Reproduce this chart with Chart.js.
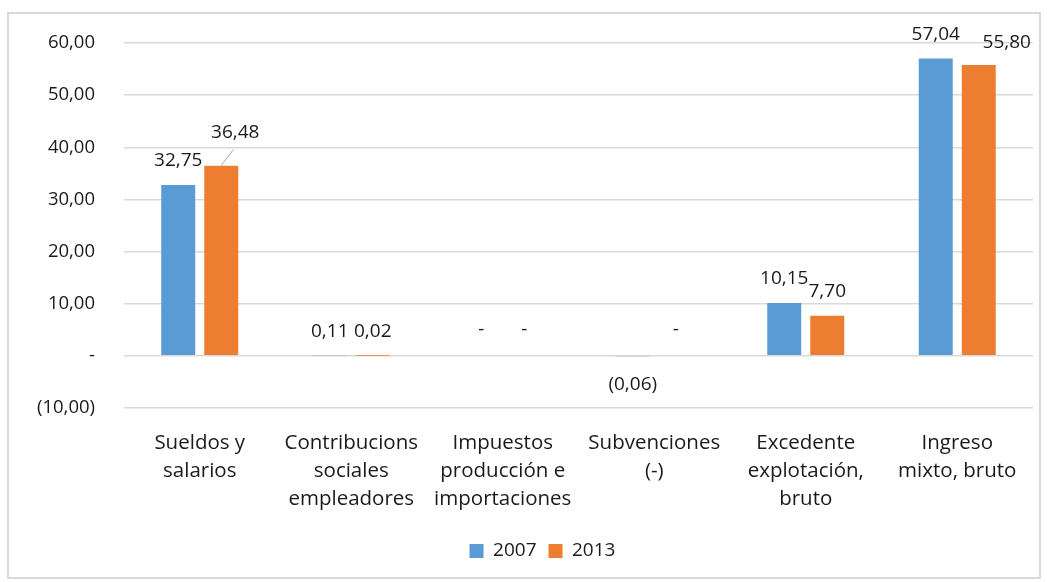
<!DOCTYPE html>
<html>
<head>
<meta charset="utf-8">
<script src="https://cdn.jsdelivr.net/npm/chart.js@4.4.1/dist/chart.umd.min.js"></script>
<style>
  html, body { margin: 0; padding: 0; background: #fff; }
  #wrap { position: relative; width: 1047px; height: 582px; }
  #frame { position: absolute; left: 7px; top: 12px; width: 1030px; height: 563px;
           border: 2px solid #d9d9d9; pointer-events: none; }
  canvas { position: absolute; left: 0; top: 0; }
</style>
</head>
<body>
<div id="wrap">
  <canvas id="chart" width="1047" height="582"></canvas>
  <div id="frame"></div>
</div>
<script>
const categories = [
  ['Sueldos y', 'salarios'],
  ['Contribucions', 'sociales', 'empleadores'],
  ['Impuestos', 'producción e', 'importaciones'],
  ['Subvenciones', '(-)'],
  ['Excedente', 'explotación,', 'bruto'],
  ['Ingreso', 'mixto, bruto']
];
const values2007 = [32.75, 0.11, 0, -0.06, 10.15, 57.04];
const values2013 = [36.48, 0.02, 0, 0, 7.70, 55.80];
const seriesNames = ['2007', '2013'];
const yTicks = [-10, 0, 10, 20, 30, 40, 50, 60];

const FONT = '"Open Sans", "Lato", sans-serif';

// formato contable: 32,75 / - / (0,06)
function fmt(v) {
  if (v === 0) return '-';
  const s = Math.abs(v).toFixed(2).replace('.', ',');
  return v < 0 ? '(' + s + ')' : s;
}

// etiquetas movidas a mano en el original (dataset-indice)
const moved = {
  '1-0': { dx: 14, dy: -9, leader: true },
  '1-5': { dx: 28, dy: 2 }
};

const valueLabels = {
  id: 'valueLabels',
  afterDatasetsDraw(chart) {
    const ctx = chart.ctx;
    ctx.save();
    ctx.font = '19px ' + FONT;
    ctx.fillStyle = '#1a1a1a';
    ctx.textAlign = 'center';
    ctx.textBaseline = 'middle';
    chart.data.datasets.forEach((ds, di) => {
      chart.getDatasetMeta(di).data.forEach((bar, i) => {
        const v = ds.data[i];
        let x = bar.x, y;
        if (v > 0) y = bar.y - 24;
        else if (v === 0) y = bar.base - 26;
        else y = bar.base + 28;
        const m = moved[di + '-' + i];
        if (m) {
          if (m.leader) {
            ctx.strokeStyle = '#a6a6a6';
            ctx.lineWidth = 1;
            ctx.beginPath();
            ctx.moveTo(bar.x, bar.y);
            ctx.lineTo(bar.x + 12, bar.y - 16);
            ctx.stroke();
          }
          x += m.dx; y += m.dy;
        }
        ctx.fillText(fmt(v), x, y);
      });
    });
    ctx.restore();
  }
};

// la leyenda del original no está centrada en el lienzo
const legendShift = {
  id: 'legendShift',
  afterLayout(chart) {
    chart.legend.left += 26;
    chart.legend.right += 26;
  }
};

new Chart(document.getElementById('chart').getContext('2d'), {
  type: 'bar',
  data: {
    labels: categories,
    datasets: [
      { label: seriesNames[0], data: values2007, backgroundColor: '#5B9BD5' },
      { label: seriesNames[1], data: values2013, backgroundColor: '#ED7D31' }
    ]
  },
  options: {
    responsive: false,
    animation: false,
    layout: { padding: { top: 43, right: 14, bottom: 11.5, left: 0 } },
    datasets: { bar: { categoryPercentage: 0.568, barPercentage: 0.79 } },
    scales: {
      x: {
        grid: { display: false },
        border: { display: false },
        ticks: { color: '#1a1a1a', font: { family: FONT, size: 20.5, lineHeight: 1.37 }, padding: 13, maxRotation: 0, autoSkip: false },
        afterFit(scale) { scale.height = 121.5; }
      },
      y: {
        min: -10,
        max: 60,
        afterBuildTicks(scale) { scale.ticks = yTicks.map(v => ({ value: v })); },
        grid: { color: '#d9d9d9', lineWidth: 1.5, drawTicks: false },
        border: { display: false },
        ticks: {
          color: '#1a1a1a',
          font: { family: FONT, size: 18.5 },
          padding: 29,
          callback: v => fmt(v)
        },
        afterFit(scale) { scale.width = 124; }
      }
    },
    plugins: {
      legend: {
        position: 'bottom',
        labels: { color: '#1a1a1a', font: { family: FONT, size: 19 }, boxWidth: 14, boxHeight: 14, padding: 12 }
      },
      tooltip: { enabled: false }
    }
  },
  plugins: [valueLabels, legendShift]
});
</script>
</body>
</html>
